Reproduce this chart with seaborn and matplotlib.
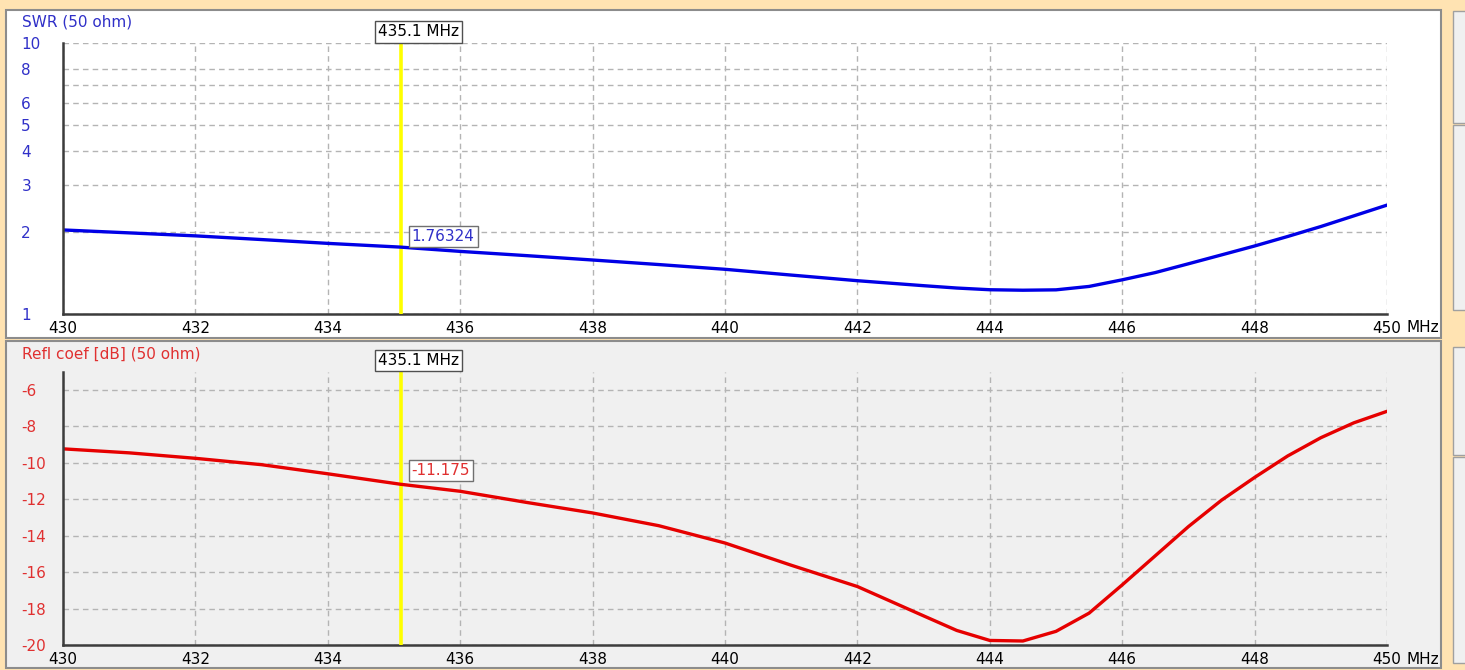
import numpy as np
import pandas as pd
import matplotlib.pyplot as plt
import matplotlib.patches as mpatches
import seaborn as sns

sns.set_style("white")
plt.rcParams["font.family"] = ["DejaVu Sans"]

# data
freq_mhz = [430, 431, 432, 433, 434, 435.1, 436, 437, 438, 439, 440, 441, 442,
            443, 443.5, 444, 444.5, 445, 445.5, 446, 446.5, 447, 447.5, 448,
            448.5, 449, 449.5, 450]
swr = [2.04, 1.99, 1.94, 1.88, 1.82, 1.763, 1.70, 1.64, 1.58, 1.52, 1.46, 1.39,
       1.325, 1.27, 1.245, 1.227, 1.222, 1.226, 1.262, 1.335, 1.42, 1.53, 1.65,
       1.78, 1.93, 2.10, 2.30, 2.52]
refl_db = [-9.23, -9.45, -9.75, -10.1, -10.6, -11.175, -11.56, -12.17, -12.75,
           -13.45, -14.40, -15.62, -16.79, -18.4, -19.2, -19.75, -19.78, -19.25,
           -18.25, -16.7, -15.1, -13.5, -12.05, -10.8, -9.62, -8.62, -7.8, -7.17]
cursor_mhz = 435.1
cursor_swr = "1.76324"
cursor_db = "-11.175"
x_ticks = list(range(430, 451, 2))
swr_ticks = [1, 2, 3, 4, 5, 6, 8, 10]
db_ticks = list(range(-20, -5, 2))

df = pd.DataFrame({"freq": freq_mhz, "swr": swr, "refl": refl_db})

W, H = 1465, 670
BLUE, BLUE_TXT = "#0000E6", "#3030C8"
RED, RED_TXT = "#E60000", "#E03030"
GRID = "#B4B4B4"

fig = plt.figure(figsize=(W / 100, H / 100), dpi=100, facecolor="#FFE3B2")


def px_rect(x0, y0, x1, y1, **kw):
    return mpatches.Rectangle((x0 / W, 1 - y1 / H), (x1 - x0) / W, (y1 - y0) / H,
                              transform=fig.transFigure, zorder=-5, **kw)


# window panels and the little side boxes
fig.patches.append(px_rect(6, 10, 1441, 338, facecolor="white", edgecolor="#8C8C8C", lw=1.5))
fig.patches.append(px_rect(6, 341, 1441, 668, facecolor="#F0F0F0", edgecolor="#8C8C8C", lw=1.5))
for y0, y1 in [(11, 123), (125, 310), (347, 455), (457, 663)]:
    fig.patches.append(px_rect(1453, y0, 1470, y1, facecolor="#F0F0F0", edgecolor="#A0A0A0", lw=1))

ax1 = fig.add_axes([63 / W, 1 - 313.8 / H, 1324 / W, (313.8 - 43) / H])
ax2 = fig.add_axes([63 / W, 1 - 645 / H, 1324 / W, (645 - 371.8) / H])
ax1.set_facecolor("white")
ax2.set_facecolor("#F0F0F0")

sns.lineplot(data=df, x="freq", y="swr", ax=ax1, color=BLUE, lw=2.4, zorder=4)
sns.lineplot(data=df, x="freq", y="refl", ax=ax2, color=RED, lw=2.4, zorder=4)

ax1.set_yscale("log")
ax1.set_ylim(1, 10)
ax1.set_yticks(swr_ticks)
ax1.set_yticklabels([str(t) for t in swr_ticks])
ax1.set_yticks([7], minor=True)
ax1.set_yticklabels([""], minor=True)

ax2.set_ylim(-20, -5)
ax2.set_yticks(db_ticks)
ax2.set_yticklabels([str(t) for t in db_ticks])

for ax, col in [(ax1, BLUE_TXT), (ax2, RED_TXT)]:
    ax.set_xlim(430, 450)
    ax.set_xticks(x_ticks)
    ax.set_xticklabels([str(t) for t in x_ticks])
    ax.set_xlabel("")
    ax.set_ylabel("")
    ax.grid(True, which="both", color=GRID, lw=1, linestyle=(0, (4, 3)))
    ax.tick_params(axis="both", which="both", length=0)
    ax.tick_params(axis="y", pad=30, labelsize=11, labelcolor=col)
    ax.tick_params(axis="x", pad=5, labelsize=11, labelcolor="black")
    plt.setp(ax.get_yticklabels(), ha="left")
    for side in ["top", "right"]:
        ax.spines[side].set_visible(False)
    for side in ["left", "bottom"]:
        ax.spines[side].set_color("#3C3C3C")
        ax.spines[side].set_linewidth(1.8)
    ax.spines["left"].set_zorder(5)

    # marker line and its frequency label
    ax.axvline(cursor_mhz, color="#FFFF00", lw=2.6, zorder=3)
    ax.annotate(f"{cursor_mhz} MHz", xy=(cursor_mhz, 1), xycoords=("data", "axes fraction"),
                xytext=(18, 11), textcoords="offset pixels", ha="center", va="center",
                fontsize=11, color="black", annotation_clip=False,
                bbox=dict(boxstyle="square,pad=0.2", fc="white", ec="#505050", lw=1))
    ax.annotate("MHz", xy=(450, 0), xycoords=("data", "axes fraction"),
                xytext=(19, -14), textcoords="offset pixels", ha="left", va="center",
                fontsize=11, color="black", annotation_clip=False)

# values at the marker
ax1.annotate(cursor_swr, xy=(cursor_mhz, float(cursor_swr)), xytext=(11, 11),
             textcoords="offset pixels", ha="left", va="center", fontsize=11, color=BLUE_TXT,
             bbox=dict(boxstyle="square,pad=0.2", fc="white", ec="#707070", lw=1), zorder=6)
ax2.annotate(cursor_db, xy=(cursor_mhz, float(cursor_db)), xytext=(11, 14),
             textcoords="offset pixels", ha="left", va="center", fontsize=11, color=RED_TXT,
             bbox=dict(boxstyle="square,pad=0.2", fc="white", ec="#707070", lw=1), zorder=6)

fig.text(22 / W, 1 - 22 / H, "SWR (50 ohm)", color=BLUE_TXT, fontsize=11, ha="left", va="center")
fig.text(22 / W, 1 - 354 / H, "Refl coef [dB] (50 ohm)", color=RED_TXT, fontsize=11,
         ha="left", va="center")

fig.savefig("out.png", dpi=100, facecolor=fig.get_facecolor())
